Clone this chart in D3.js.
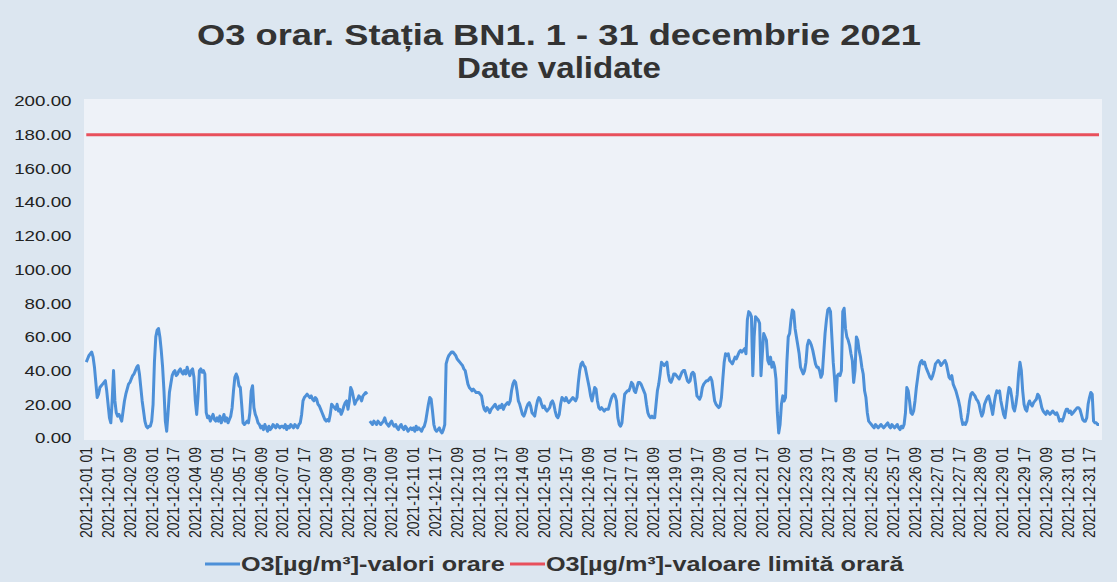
<!DOCTYPE html>
<html><head><meta charset="utf-8">
<script src="https://cdn.jsdelivr.net/npm/d3@7"></script>
<style>
body{margin:0;background:#dce6f0;}
svg{display:block;font-family:"Liberation Sans",Arial,sans-serif;}
</style>
</head><body><svg id="chart" width="1117" height="582"></svg>
<script>
const titleLines = ["O3 orar. Stația BN1. 1 - 31 decembrie 2021", "Date validate"];
const seriesNames = ["O3[µg/m³]-valori orare", "O3[µg/m³]-valoare limită orară"];
const yTickValues = [0, 20, 40, 60, 80, 100, 120, 140, 160, 180, 200];
const limitValue = 180;
const days = d3.range(1, 32);
const hours = d3.range(1, 25);

// O3 hourly values (µg/m³), one row per day, hours 01..24; null = missing
const o3ByDay = [
 [45,47,49,50,51,48,42,33,24,26,30,31,32,33,34,28,20,12,9,22,40,22,15,13],
 [14,12,10,16,22,26,29,32,33,35,37,38,40,42,43,38,30,22,16,10,7,6,7,7],
 [10,20,45,60,64,65,60,52,42,28,10,4,15,27,32,37,39,40,37,38,40,41,39,38],
 [40,38,42,39,37,40,41,36,22,14,25,40,41,39,40,38,15,12,13,10,12,14,11,10],
 [12,10,13,9,11,14,10,12,9,11,13,18,28,36,38,36,31,30,20,9,8,9,10,9],
 [15,28,31,18,14,12,9,8,6,7,5,8,6,4,7,5,6,8,7,6,8,7,6,7],
 [7,6,8,5,7,6,8,7,6,8,7,6,8,9,14,22,24,25,26,25,24,25,23,22],
 [24,23,20,19,17,15,13,11,10,11,10,14,20,19,18,17,20,16,17,14,16,19,21,22],
 [17,22,30,28,24,20,22,23,25,24,22,25,26,27,26,null,10,9,8,10,9,8,10,9],
 [8,9,10,12,9,8,7,9,10,8,7,8,6,5,7,8,6,5,7,6,4,5,6,5],
 [6,4,7,5,6,5,4,6,7,10,15,20,24,23,16,8,5,4,5,6,4,3,5,8],
 [44,47,49,50,51,51,50,49,47,46,45,44,43,41,40,36,32,30,29,28,29,28,27,27],
 [27,26,25,20,17,16,18,17,15,17,18,19,20,18,17,19,18,20,17,19,20,21,20,22],
 [28,32,34,33,28,22,20,17,14,13,15,18,20,21,19,15,14,13,18,22,24,23,20,18],
 [19,17,16,17,18,21,22,20,16,13,12,14,20,24,23,22,24,22,21,22,23,24,23,22],
 [24,33,40,44,45,43,42,38,34,30,25,22,26,30,29,22,18,17,18,17,16,17,17,17],
 [20,23,25,26,25,22,12,8,7,9,18,26,27,28,28,30,33,32,28,27,30,33,33,32],
 [30,28,26,20,15,13,12,13,12,12,20,28,32,38,45,44,43,44,45,38,34,33,35,38],
 [38,37,36,35,37,39,40,40,37,34,33,34,38,39,38,32,25,24,23,25,30,32,33,34],
 [34,35,36,34,28,22,20,19,18,19,24,35,45,50,49,50,46,45,44,46,48,47,49,51],
 [52,51,52,53,50,70,75,74,72,37,60,72,71,70,68,37,50,62,60,58,46,44,48,42],
 [45,42,35,15,3,8,20,25,22,24,45,60,62,70,76,75,65,60,55,50,42,40,38,40],
 [45,55,58,57,55,52,48,44,42,42,40,36,38,50,62,70,76,77,75,60,45,35,22,37],
 [38,37,40,75,77,65,60,58,55,50,46,33,40,60,58,52,48,42,38,28,24,15,10,9],
 [8,7,6,8,7,6,7,8,7,6,7,8,9,7,6,8,7,6,7,8,6,5,7,6],
 [8,15,30,28,22,15,14,16,22,30,36,42,45,46,44,45,42,40,38,36,35,37,40,44],
 [45,46,45,43,44,45,46,44,40,36,35,37,32,30,28,25,22,18,12,8,9,8,10,15],
 [22,26,27,26,25,23,22,20,16,13,15,20,22,24,25,22,18,14,20,25,28,27,28,22],
 [18,14,12,18,25,30,29,24,18,16,20,26,38,45,40,28,20,17,16,20,22,20,19,21],
 [22,23,26,25,22,18,16,15,14,16,15,14,15,16,15,14,15,13,10,11,10,12,15,17],
 [17,15,16,14,15,16,17,18,18,17,14,11,10,10,12,20,24,27,26,10,9,9,8,8]
];

const pad = n => String(n).padStart(2, "0");
const categories = days.flatMap(d => hours.map(h => `2021-12-${pad(d)} ${pad(h)}`));
const o3Values = o3ByDay.flat();
const tickLabels = categories.filter((c, i) => i % 16 === 0);

const svg = d3.select("#chart");
const W = 1117, H = 582;
const plot = {left: 84, right: 1102, top: 101, bottom: 438};
const FONT = '"Liberation Sans",Arial,sans-serif';

svg.append("rect").attr("width", W).attr("height", H).attr("fill", "#dce6f0");
svg.append("rect").attr("x", plot.left).attr("y", plot.top - 2)
  .attr("width", plot.right - plot.left).attr("height", plot.bottom - plot.top + 4)
  .attr("fill", "#eef2f8");

const x = d3.scaleBand().domain(categories).range([85.6, 1099.7]);
const xc = c => x(c) + x.bandwidth() / 2;
const y = d3.scaleLinear().domain([0, 200]).range([plot.bottom, plot.top]);

// title
const titleWidths = [724, 204];
svg.append("g").selectAll("text").data(titleLines).join("text")
  .attr("x", 559).attr("y", (d, i) => 45 + i * 33)
  .attr("text-anchor", "middle").attr("font-weight", "bold")
  .attr("font-size", 29).attr("fill", "#333")
  .attr("textLength", (d, i) => titleWidths[i]).attr("lengthAdjust", "spacingAndGlyphs")
  .text(d => d);

// y axis
const yAxis = d3.axisLeft(y).tickValues(yTickValues).tickFormat(d3.format(".2f")).tickSize(0).tickPadding(10);
const gy = svg.append("g").attr("transform", `translate(${plot.left},0)`).call(yAxis);
gy.select(".domain").remove();
gy.selectAll("text").attr("font-size", 15).attr("fill", "#222")
  .attr("font-family", FONT).attr("transform", "scale(1.25,1)");

// x axis
const xAxis = d3.axisBottom(x).tickValues(tickLabels).tickSize(0).tickPadding(0);
const gx = svg.append("g").attr("transform", `translate(0,${plot.bottom + 9})`).call(xAxis);
gx.select(".domain").remove();
gx.selectAll("text")
  .attr("transform", "scale(1.2,1) rotate(-90)")
  .attr("text-anchor", "end")
  .attr("dx", "0").attr("dy", "0.35em").attr("x", 0).attr("y", 0)
  .attr("font-size", 14).attr("fill", "#222")
  .attr("font-family", FONT);

// limit line
const limitSeries = categories.map(() => limitValue);
const line = d3.line().defined(d => d[1] != null).x(d => xc(d[0])).y(d => y(d[1]));
svg.append("path").datum(categories.map((c, i) => [c, limitSeries[i]]))
  .attr("fill", "none").attr("stroke", "#e8505c").attr("stroke-width", 3).attr("d", line);

// O3 line
svg.append("path").datum(categories.map((c, i) => [c, o3Values[i]]))
  .attr("fill", "none").attr("stroke", "#4d90d8").attr("stroke-width", 3)
  .attr("stroke-linejoin", "round").attr("d", line);

// legend
const legend = [
  {name: seriesNames[0], color: "#4d90d8", x0: 205},
  {name: seriesNames[1], color: "#e8505c", x0: 510}
];
const lg = svg.append("g").selectAll("g").data(legend).join("g")
  .attr("transform", d => `translate(${d.x0},564)`);
lg.append("line").attr("x1", 0).attr("x2", 35).attr("stroke", d => d.color).attr("stroke-width", 3);
lg.append("text").attr("transform", "translate(36,0) scale(1.2,1)").attr("dy", "0.35em")
  .attr("font-weight", "bold").attr("font-family", FONT)
  .attr("font-size", 21).attr("fill", "#333").text(d => d.name);
</script>
</body></html>
